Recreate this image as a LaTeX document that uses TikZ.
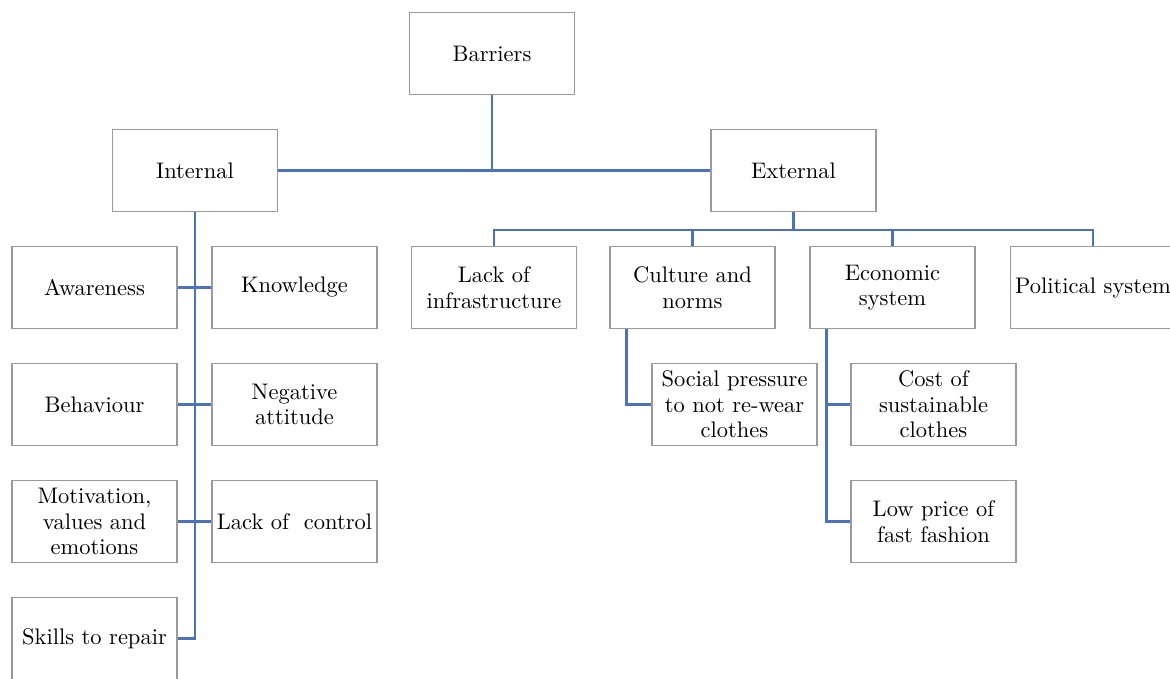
\documentclass[tikz,border=0pt]{standalone}
\usepackage{fontspec}
\setmainfont{lmroman10-regular.otf}
\begin{document}
\begin{tikzpicture}[x=1pt,y=-1pt,
  box/.style={draw=boxgray, line width=1.2pt, fill=white, minimum width=165pt,
    minimum height=82pt, inner sep=2pt, align=center,
    font=\fontsize{22.5}{25.5}\selectfont},
  link/.style={draw=linkblue, line width=2.2pt}]
\definecolor{boxgray}{HTML}{9A9A9A}
\definecolor{linkblue}{HTML}{4A72C0}
\useasboundingbox[fill=white] (0,0) rectangle (1170,679);

% top levels
\node[box] (barriers) at (492,53.5) {Barriers};
\node[box] (internal) at (195,170.5) {Internal};
\node[box] (external) at (793.5,170.5) {External};

% internal barriers
\node[box] (awareness)  at (94.5,287.5) {Awareness};
\node[box] (knowledge)  at (294.5,287.5) {Knowledge};
\node[box] (behaviour)  at (94.5,404.5) {Behaviour};
\node[box] (negative)   at (294.5,404.5) {Negative\\attitude};
\node[box] (motivation) at (94.5,521.5) {Motivation,\\values and\\emotions};
\node[box] (control)    at (294.5,521.5) {Lack of~ control};
\node[box] (skills)     at (94.5,638.5) {Skills to repair};

% external barriers
\node[box] (infra)     at (494,287.5) {Lack of\\infrastructure};
\node[box] (culture)   at (692.5,287.5) {Culture and\\norms};
\node[box] (economic)  at (892.5,287.5) {Economic\\system};
\node[box] (political) at (1093,287.5) {Political system};
\node[box] (social)    at (734.5,404.5) {Social pressure\\to not re-wear\\clothes};
\node[box] (cost)      at (933.5,404.5) {Cost of\\sustainable\\clothes};
\node[box] (lowprice)  at (933.5,521.5) {Low price of\\fast fashion};

% connectors
\coordinate (bus) at (793.5,230);
\coordinate (ctrunk) at ([xshift=17pt]culture.south west);
\coordinate (etrunk) at ([xshift=17pt]economic.south west);

\draw[link] (internal.east) -- (external.west);
\draw[link] (barriers.south) -- (barriers.south |- internal.east);

\draw[link] (internal.south) |- (skills.east);
\draw[link] (awareness.east) -- (knowledge.west);
\draw[link] (behaviour.east) -- (negative.west);
\draw[link] (motivation.east) -- (control.west);

\draw[link] (external.south) -- (bus);
\draw[link] (infra.north) |- (bus) -| (political.north);
\draw[link] (culture.north) -- (culture.north |- bus);
\draw[link] (economic.north) -- (economic.north |- bus);

\draw[link] (ctrunk) |- (social.west);
\draw[link] (etrunk) |- (lowprice.west);
\draw[link] (cost.west) -- (cost.west -| etrunk);
\end{tikzpicture}
\end{document}
